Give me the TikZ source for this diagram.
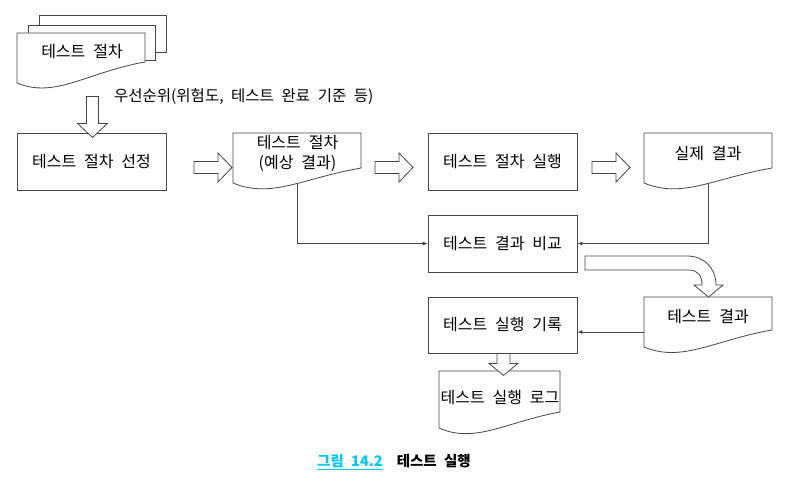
\documentclass[tikz,border=0pt]{standalone}
\usepackage{fontspec}
\setmainfont{Noto Sans CJK KR}[WordSpace=2.2]
\usetikzlibrary{calc,arrows.meta}

\definecolor{linegray}{RGB}{70,70,70}
\definecolor{capcyan}{RGB}{0,200,245}

\pgfdeclarelayer{background}
\pgfsetlayers{background,main}

% document symbol: left, top, right, bottom-left, bottom-right
\newcommand\docshape[5]{%
  \pgfmathsetmacro\docw{#3-#1}%
  \draw[outline,fill=white] (#1,#2) -- (#3,#2) -- (#3,#5)
    .. controls ({#1+0.55*\docw},{#5+10}) and ({#1+0.3*\docw},{#4+16}) .. (#1,#4) -- cycle;}

\tikzset{
  outline/.style={draw=linegray,line width=0.8pt},
  label/.style={font=\fontsize{16}{20}\selectfont,inner sep=2pt,align=center},
  procbox/.style={outline,label,minimum width=149pt,minimum height=57pt},
  conn/.style={draw=linegray,line width=0.8pt,-{Latex[length=5pt,width=4pt]}},
  hollow/.style={outline,fill=white,line join=miter},
  pics/rarrow/.style={code={
    \draw[hollow] (-19,-6) -- (5,-6) -- (5,-14.5) -- (19,0) -- (5,14.5) -- (5,6) -- (-19,6) -- cycle;}},
  pics/bigdown/.style={code={
    \draw[hollow] (-6,-20.5) -- (6,-20.5) -- (6,6.5) -- (15,6.5) -- (0,20.5) -- (-15,6.5) -- (-6,6.5) -- cycle;}},
  pics/smalldown/.style={code={
    \draw[hollow] (-6.5,-11) -- (6.5,-11) -- (6.5,-1) -- (14.5,-1) -- (0,11) -- (-14.5,-1) -- (-6.5,-1) -- cycle;}}
}

\begin{document}
\begin{tikzpicture}[x=1pt,y=-1pt]
\begin{pgfonlayer}{background}
\fill[white] (0,0) rectangle (794,484);
\end{pgfonlayer}
\useasboundingbox (0,0) rectangle (794,484);

% stacked test procedures
\draw[outline,fill=white] (39,15) rectangle (166,52);
\draw[outline,fill=white] (28,25) rectangle (155,60);
\docshape{17}{33}{145}{83}{62}
\node[label] (proc) at (82,52) {테스트 절차};

% process boxes
\node[procbox] (sel) at (91.5,161.5) {테스트 절차 선정};
\node[procbox] (run) at (502.5,161.5) {테스트 절차 실행};
\node[procbox] (cmp) at (502.5,243.5) {테스트 결과 비교};
\node[procbox,minimum height=56pt] (rec) at (502.5,325) {테스트 실행 기록};

% documents
\docshape{233}{133}{361}{183}{168}
\node[label] (exp) at (297.5,153.5) {테스트 절차\\(예상 결과)};
\docshape{644}{133}{772}{183}{168}
\node[label] (real) at (708,154) {실제 결과};
\docshape{644}{297}{772}{347}{330}
\node[label] (res) at (708,317) {테스트 결과};
\coordinate (resout) at (644,332);
\docshape{439}{371}{560}{428}{412}
\node[label] (log) at (500,398) {테스트 실행 로그};

% priority label
\node[font=\fontsize{15.5}{18}\selectfont,anchor=west,inner sep=0pt] (prio) at (114,97)
  {우선순위(위험도, 테스트 완료 기준 등)};

% block arrows
\pic at ($(proc.south)+(10.5,55.5)$) {bigdown};
\pic at ($(sel.east)!0.5!(exp.west |- sel.east)+(2.5,6)$) {rarrow};
\pic at (394,167.5) {rarrow};
\pic at (611,167.5) {rarrow};
\pic at ($(rec.south)+(1,11)$) {smalldown};

% curved block arrow from comparison to test results
\draw[hollow] (585,256) -- (687,256) .. controls (704,256) and (716,268) .. (716,285)
  -- (723,285) -- (708.5,297) -- (694,285) -- (702,285)
  .. controls (702,276) and (698,270) .. (689,270) -- (585,270) -- cycle;

% connectors
\begin{pgfonlayer}{background}
\draw[conn] (exp.south) |- (cmp.west);
\draw[conn] (real.south) |- (cmp.east);
\draw[conn] (resout) -- (rec.east |- resout);
\end{pgfonlayer}

% caption
\node[font=\fontsize{14.5}{17}\selectfont\bfseries,inner sep=0pt] (cap) at (394,462)
  {{\color{capcyan}\underline{그림 14.2}}\hspace{14pt}테스트 실행};
\end{tikzpicture}
\end{document}
